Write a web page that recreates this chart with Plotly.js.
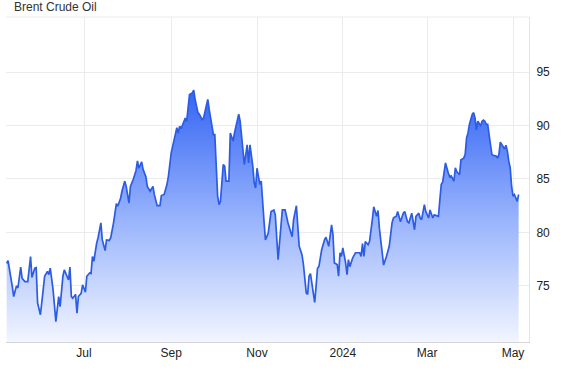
<!DOCTYPE html>
<html>
<head>
<meta charset="utf-8">
<script src="https://cdn.plot.ly/plotly-3.0.1.min.js"></script>
<style>
html,body{margin:0;padding:0;background:#fff;}
#chart{width:577px;height:375px;}
</style>
</head>
<body>
<div id="chart"></div>
<script>
const chartTitle = 'Brent Crude Oil';

const dates = [
'2023-05-07','2023-05-08','2023-05-11','2023-05-12','2023-05-14','2023-05-15','2023-05-17','2023-05-18','2023-05-20','2023-05-22','2023-05-24','2023-05-25','2023-05-27','2023-05-28','2023-05-29','2023-05-31',
'2023-06-02','2023-06-03','2023-06-05','2023-06-06','2023-06-07','2023-06-08','2023-06-09','2023-06-11','2023-06-13','2023-06-14','2023-06-16','2023-06-17','2023-06-19','2023-06-20','2023-06-21','2023-06-22','2023-06-23','2023-06-25','2023-06-26','2023-06-27','2023-06-29','2023-06-30',
'2023-07-02','2023-07-03','2023-07-05','2023-07-06','2023-07-07','2023-07-08','2023-07-10','2023-07-11','2023-07-13','2023-07-14','2023-07-16','2023-07-17','2023-07-19','2023-07-20','2023-07-22','2023-07-23','2023-07-24','2023-07-25','2023-07-27','2023-07-28','2023-07-30','2023-07-31',
'2023-08-02','2023-08-03','2023-08-05','2023-08-07','2023-08-08','2023-08-09','2023-08-11','2023-08-12','2023-08-14','2023-08-15','2023-08-17','2023-08-19','2023-08-20','2023-08-22','2023-08-24','2023-08-25','2023-08-27','2023-08-29','2023-08-30',
'2023-09-01','2023-09-02','2023-09-04','2023-09-05','2023-09-06','2023-09-07','2023-09-08','2023-09-10','2023-09-11','2023-09-12','2023-09-13','2023-09-14','2023-09-16','2023-09-17','2023-09-18','2023-09-19','2023-09-20','2023-09-21','2023-09-23','2023-09-24','2023-09-25','2023-09-27','2023-09-28','2023-09-29',
'2023-10-01','2023-10-02','2023-10-03','2023-10-04','2023-10-05','2023-10-06','2023-10-08','2023-10-09','2023-10-10','2023-10-12','2023-10-13','2023-10-15','2023-10-16','2023-10-18','2023-10-19','2023-10-20','2023-10-21','2023-10-22','2023-10-23','2023-10-25','2023-10-26','2023-10-27','2023-10-29','2023-10-30','2023-10-31',
'2023-11-01','2023-11-03','2023-11-04','2023-11-05','2023-11-06','2023-11-07','2023-11-09','2023-11-11','2023-11-13','2023-11-14','2023-11-16','2023-11-18','2023-11-19','2023-11-21','2023-11-23','2023-11-26','2023-11-27','2023-11-29','2023-11-30',
'2023-12-01','2023-12-03','2023-12-04','2023-12-06','2023-12-07','2023-12-08','2023-12-09','2023-12-11','2023-12-12','2023-12-13','2023-12-14','2023-12-15','2023-12-17','2023-12-19','2023-12-20','2023-12-21','2023-12-22','2023-12-24','2023-12-25','2023-12-26','2023-12-28','2023-12-29','2023-12-30','2023-12-31',
'2024-01-01','2024-01-03','2024-01-04','2024-01-05','2024-01-06','2024-01-08','2024-01-10','2024-01-11','2024-01-13','2024-01-14','2024-01-15','2024-01-16','2024-01-17','2024-01-19','2024-01-20','2024-01-22','2024-01-23','2024-01-25','2024-01-26','2024-01-27','2024-01-29','2024-01-30',
'2024-02-01','2024-02-03','2024-02-05','2024-02-06','2024-02-07','2024-02-08','2024-02-09','2024-02-11','2024-02-13','2024-02-14','2024-02-16','2024-02-17','2024-02-19','2024-02-21','2024-02-22','2024-02-24','2024-02-25','2024-02-26','2024-02-28','2024-02-29',
'2024-03-02','2024-03-03','2024-03-05','2024-03-06','2024-03-08','2024-03-09','2024-03-10','2024-03-11','2024-03-12','2024-03-13','2024-03-14','2024-03-16','2024-03-17','2024-03-18','2024-03-20','2024-03-21','2024-03-22','2024-03-24','2024-03-25','2024-03-27','2024-03-28','2024-03-29','2024-03-30','2024-03-31',
'2024-04-02','2024-04-03','2024-04-04','2024-04-05','2024-04-06','2024-04-08','2024-04-09','2024-04-10','2024-04-11','2024-04-12','2024-04-13','2024-04-15','2024-04-16','2024-04-17','2024-04-19','2024-04-20','2024-04-21','2024-04-22','2024-04-24','2024-04-25','2024-04-26','2024-04-27','2024-04-28','2024-04-29','2024-04-30',
'2024-05-01','2024-05-02','2024-05-04','2024-05-05'
];

const prices = [
77.1, 77.35, 74.95, 74.0, 75.0, 74.8, 76.75, 75.7, 75.4, 75.4, 77.75, 75.8, 76.65, 76.7, 73.4, 72.3,
74.65, 75.9, 76.35, 76.05, 76.65, 75.55, 74.65, 71.65, 74.0, 73.05, 75.9, 76.5, 75.9, 75.55, 76.75, 74.0, 73.85, 74.2, 72.45, 74.0, 74.3, 75.1,
74.4, 75.9, 76.2, 76.15, 77.75, 77.3, 79.0, 79.5, 80.9, 79.3, 78.3, 79.3, 79.25, 79.5, 80.9, 81.95, 82.7, 82.45, 83.2, 83.85, 84.8, 84.3,
82.75, 84.3, 84.95, 85.8, 86.7, 86.0, 86.6, 85.9, 85.2, 84.3, 83.85, 84.3, 83.55, 82.5, 82.5, 83.45, 83.55, 84.5, 85.25,
87.45, 88.05, 89.15, 89.8, 89.3, 89.95, 89.7, 90.4, 90.7, 90.4, 91.8, 92.9, 93.05, 93.3, 92.45, 91.95, 91.2, 91.05, 90.55, 90.7, 91.35, 92.45, 91.5, 90.55,
89.15, 89.15, 85.9, 83.4, 82.6, 82.9, 86.35, 86.2, 84.8, 84.8, 89.3, 88.55, 89.3, 90.4, 91.05, 90.4, 89.0, 87.9, 86.35, 88.2, 86.5, 88.2, 86.2, 84.65, 84.15,
86.0, 84.5, 84.8, 82.2, 81.0, 79.3, 79.95, 81.95, 82.1, 81.65, 77.45, 80.55, 82.1, 82.1, 80.9, 79.6, 81.2, 82.5, 80.55,
78.7, 77.9, 77.0, 74.35, 74.2, 75.9, 76.15, 74.35, 73.45, 74.95, 76.65, 76.8, 78.4, 79.3, 79.55, 79.15, 78.7, 80.7, 79.8, 77.15, 77.0, 75.9, 78.1, 77.75,
78.55, 77.15, 76.05, 77.45, 76.8, 77.6, 78.1, 78.1, 78.1, 77.75, 78.95, 77.75, 79.15, 78.85, 79.15, 81.2, 82.4, 81.5, 82.05, 80.4, 78.2, 76.95,
77.75, 78.7, 80.9, 81.35, 81.45, 81.5, 81.95, 81.0, 81.8, 81.95, 81.0, 80.9, 81.8, 80.25, 81.5, 81.8, 81.35, 81.2, 82.6, 81.95,
81.35, 82.1, 81.35, 81.65, 81.55, 81.5, 83.05, 84.5, 84.7, 85.9, 86.5, 85.55, 85.2, 85.3, 84.8, 86.05, 85.7, 85.4, 86.8, 86.95, 87.3, 88.85, 89.3, 90.1,
91.05, 91.2, 90.7, 89.6, 90.4, 89.95, 90.4, 90.5, 90.4, 90.1, 90.1, 88.2, 87.3, 87.2, 87.15, 86.95, 87.3, 88.45, 88.05, 87.8, 88.15, 87.6, 86.65, 86.05, 84.3,
83.4, 83.55, 82.9, 83.55
];

const xTickVals = ['2023-07-01','2023-09-01','2023-11-01','2024-01-01','2024-03-01','2024-05-01'];
const xTickText = ['Jul','Sep','Nov','2024','Mar','May'];
const yTickVals = [75, 80, 85, 90, 95];
const yTickText = ['75', '80', '85', '90', '95'];

const FONT = 'Liberation Sans, Arial, Helvetica, sans-serif';

const trace = {
  type: 'scatter',
  mode: 'lines',
  x: dates,
  y: prices,
  line: {color: 'rgb(44,92,228)', width: 1.7, shape: 'linear'},
  fill: 'tozeroy',
  fillgradient: {
    type: 'vertical',
    start: 69.75,
    stop: 93.3,
    colorscale: [[0, 'rgb(242,245,255)'], [0.5, 'rgb(150,178,252)'], [1, 'rgb(52,100,244)']]
  },
  hoverinfo: 'x+y'
};

const layout = {
  width: 577,
  height: 375,
  margin: {l: 6, r: 48, t: 17, b: 33, pad: 0},
  paper_bgcolor: '#ffffff',
  plot_bgcolor: '#ffffff',
  showlegend: false,
  font: {family: FONT, size: 12, color: '#222'},
  xaxis: {
    type: 'date',
    range: ['2023-05-06 13:00', '2024-05-12 09:00'],
    tickvals: xTickVals,
    ticktext: xTickText,
    showgrid: true,
    gridcolor: '#ebebeb',
    gridwidth: 1,
    showline: true,
    linecolor: '#d6d6d6',
    linewidth: 1,
    ticks: '',
    zeroline: false,
    tickfont: {family: FONT, size: 12, color: '#222'},
    fixedrange: true
  },
  yaxis: {
    side: 'right',
    range: [69.75, 100.15],
    tickvals: yTickVals,
    ticktext: yTickText,
    showgrid: true,
    gridcolor: '#ebebeb',
    gridwidth: 1,
    showline: true,
    linecolor: '#e3e3e3',
    linewidth: 1,
    ticks: 'outside',
    ticklen: 4,
    tickcolor: 'rgba(0,0,0,0)',
    zeroline: false,
    tickfont: {family: FONT, size: 12, color: '#222'},
    fixedrange: true
  },
  shapes: [
    {type: 'line', xref: 'paper', yref: 'paper', x0: 0, x1: 1, y0: 1, y1: 1,
     line: {color: '#ebebeb', width: 1}}
  ],
  annotations: [
    {text: chartTitle, xref: 'paper', yref: 'paper', x: 0.0115, y: 1.058,
     xanchor: 'left', yanchor: 'top', showarrow: false,
     font: {family: FONT, size: 12, color: '#333'}}
  ]
};

Plotly.newPlot('chart', [trace], layout, {displayModeBar: false, staticPlot: true});
</script>
</body>
</html>
